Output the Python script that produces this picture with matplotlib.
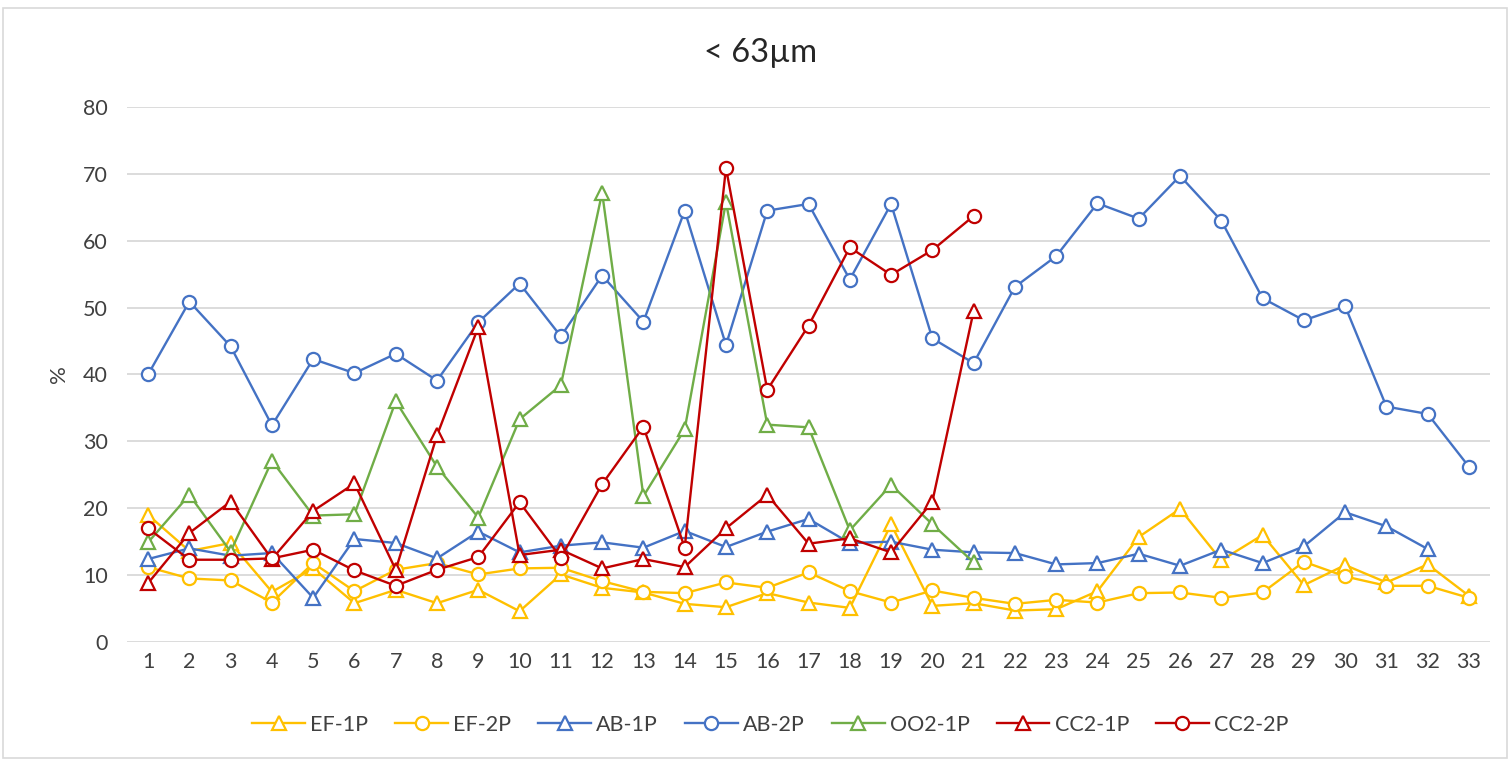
import numpy as np
import matplotlib
matplotlib.use('Agg')
import matplotlib.pyplot as plt
from matplotlib.patches import Rectangle

plt.rcParams['font.family'] = ['Lato', 'DejaVu Sans']

samples = list(range(1, 34))

ef_1p = [19.0, 13.6, 14.8, 7.5, 11.0, 5.8, 7.8, 5.8, 7.8, 4.6, 10.1, 8.1, 7.4,
         5.7, 5.2, 7.3, 5.9, 5.1, 17.6, 5.4, 5.8, 4.7, 4.9, 7.6, 15.7, 19.9,
         12.2, 16.0, 8.5, 11.5, 8.9, 11.6, 6.9]
ef_2p = [11.2, 9.5, 9.2, 5.9, 11.8, 7.6, 10.8, 11.8, 10.1, 11.0, 11.1, 9.1, 7.5,
         7.3, 8.9, 8.1, 10.4, 7.6, 5.9, 7.7, 6.6, 5.7, 6.3, 5.9, 7.3, 7.4,
         6.6, 7.4, 12.0, 9.8, 8.4, 8.4, 6.6]
ab_1p = [12.4, 14.0, 12.9, 13.3, 6.6, 15.4, 14.8, 12.5, 16.5, 13.4, 14.4, 14.9,
         14.1, 16.6, 14.2, 16.5, 18.4, 14.8, 15.0, 13.8, 13.4, 13.3, 11.6, 11.8,
         13.2, 11.4, 13.8, 11.8, 14.3, 19.4, 17.3, 13.9, np.nan]
ab_2p = [40.0, 50.9, 44.2, 32.4, 42.3, 40.2, 43.1, 39.1, 47.8, 53.6, 45.7, 54.8,
         47.9, 64.5, 44.4, 64.5, 65.5, 54.2, 65.5, 45.4, 41.7, 53.1, 57.7, 65.6,
         63.3, 69.7, 63.0, 51.4, 48.1, 50.2, 35.2, 34.1, 26.2]
oo2_1p = [14.9, 22.0, 13.5, 27.1, 18.9, 19.1, 36.0, 26.2, 18.6, 33.3, 38.4, 67.2,
          21.8, 31.8, 65.8, 32.5, 32.1, 16.7, 23.5, 17.6, 11.9]
cc2_1p = [8.8, 16.3, 21.0, 12.4, 19.6, 23.7, 10.8, 30.9, 47.1, 13.0, 13.8, 11.0,
          12.4, 11.2, 17.0, 22.0, 14.7, 15.5, 13.4, 21.0, 49.5]
cc2_2p = [17.0, 12.3, 12.3, 12.5, 13.8, 10.7, 8.4, 10.8, 12.7, 20.9, 12.6, 23.6,
          32.2, 14.1, 70.9, 37.7, 47.3, 59.0, 54.9, 58.6, 63.7]

series = [
    ('EF-1P', ef_1p, '#FFC000', '^'),
    ('EF-2P', ef_2p, '#FFC000', 'o'),
    ('AB-1P', ab_1p, '#4472C4', '^'),
    ('AB-2P', ab_2p, '#4472C4', 'o'),
    ('OO2-1P', oo2_1p, '#70AD47', '^'),
    ('CC2-1P', cc2_1p, '#C00000', '^'),
    ('CC2-2P', cc2_2p, '#C00000', 'o'),
]

fig = plt.figure(figsize=(15.1, 7.61), dpi=100)
ax = fig.add_axes([0.0844, 0.1564, 0.9021, 0.703])

for name, vals, color, marker in series:
    ax.plot(samples[:len(vals)], vals, color=color, lw=1.7, marker=marker,
            markersize=9.5 if marker == 'o' else 10, markerfacecolor='white',
            markeredgecolor=color, markeredgewidth=1.6, label=name)

ax.set_xlim(0.5, 33.5)
ax.set_ylim(0, 80)
ax.set_xticks(samples)
ax.set_yticks(range(0, 81, 10))
ax.grid(axis='y', color='#d9d9d9', lw=1.3)
ax.set_axisbelow(True)
for s in ax.spines.values():
    s.set_visible(False)
ax.tick_params(length=0, labelsize=15.5, colors='#404040')
ax.tick_params(axis='y', pad=14)
ax.tick_params(axis='x', pad=7)
ax.set_ylabel('%', fontsize=16, color='#404040', labelpad=10)

fig.text(0.504, 0.93, '< 63\u00b5m', ha='center', va='center', fontsize=23.5,
         color='#262626')

ax.legend(loc='center', bbox_to_anchor=(0.472, -0.155), ncol=7, frameon=False,
          fontsize=15.5, handlelength=2.45, handletextpad=0.25, columnspacing=1.25,
          labelcolor='#404040')

fig.patches.append(Rectangle((0.002, 0.004), 0.996, 0.985, transform=fig.transFigure,
                             fill=False, edgecolor='#d9d9d9', lw=1.2))

fig.savefig('out.png', dpi=100)
